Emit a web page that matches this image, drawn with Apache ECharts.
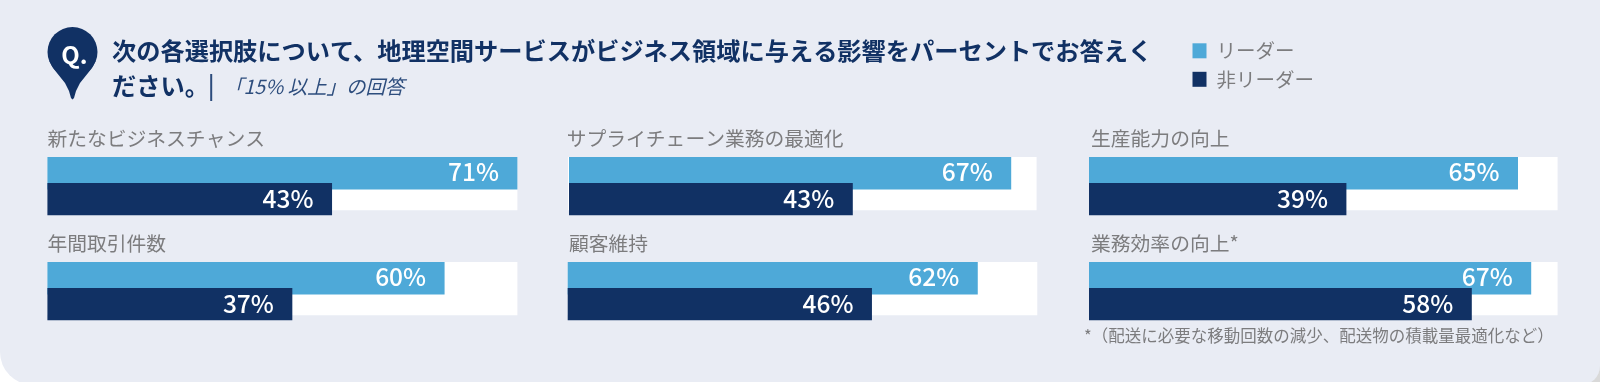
<!DOCTYPE html>
<html><head><meta charset="utf-8">
<style>html,body{margin:0;padding:0;background:#fff}#c{width:1600px;height:382px}</style>
<script src="https://cdn.jsdelivr.net/npm/echarts@6/dist/echarts.min.js"></script>
</head><body><div id="c"></div>
<script>
const categories = ['新たなビジネスチャンス','サプライチェーン業務の最適化','生産能力の向上','年間取引件数','顧客維持','業務効率の向上*'];
const leaderValues = [71,67,65,60,62,67];
const nonLeaderValues = [43,43,39,37,46,58];
const seriesNames = ['リーダー','非リーダー'];
const titleLine1 = '次の各選択肢について、地理空間サービスがビジネス領域に与える影響をパーセントでお答えく';
const titleLine2 = 'ださい。';
const subTitle = '「15% 以上」の回答';
const footnote = '*（配送に必要な移動回数の減少、配送物の積載量最適化など）';
const axisMax = 71;

const FONT = '"Noto Sans CJK JP","Noto Sans",sans-serif';
const LIGHT = '#4ea9d8', DARK = '#113164', GREY = '#7c7c7e', BG = '#e9ecf4';

const layout = [
  {bar:47.4, track:47.4, label:47.4, top:157, ly:138, w:470},
  {bar:569,  track:568,  label:566.7,top:157, ly:138, w:468.6},
  {bar:1089, track:1089, label:1091, top:157, ly:138, w:468.6},
  {bar:47.4, track:47.4, label:47.4, top:262, ly:243, w:470},
  {bar:567.7,track:567.7,label:569,  top:262, ly:243, w:469.6},
  {bar:1089, track:1089, label:1091, top:262, ly:243, w:468.6}
];

const grid=[], xAxis=[], yAxis=[], series=[], title=[];
function addGrid(left,top,w,h){
  grid.push({left,top,width:w,height:h,containLabel:false});
  xAxis.push({type:'value',gridIndex:grid.length-1,min:0,max:axisMax,show:false});
  yAxis.push({type:'category',gridIndex:grid.length-1,data:[''],inverse:true,show:false});
  return grid.length-1;
}
const lbl = {show:true,position:'insideRight',distance:18.5,color:'#fff',fontFamily:FONT,fontSize:24.5,fontWeight:500,formatter:p=>p.value+'%'};
categories.forEach((name,i)=>{
  const L = layout[i];
  const t = addGrid(L.track,L.top,L.w,53.3);
  series.push({type:'bar',xAxisIndex:t,yAxisIndex:t,data:[axisMax],barWidth:'100%',silent:true,z:1,itemStyle:{color:'#fff'},animation:false});
  const g = addGrid(L.bar,L.top,L.w,58.4);
  series.push({name:seriesNames[0],type:'bar',xAxisIndex:g,yAxisIndex:g,data:[leaderValues[i]],barWidth:32.4,barGap:'-20%',z:2,itemStyle:{color:LIGHT},label:Object.assign({},lbl,{offset:[0,-1.5]}),animation:false});
  series.push({name:seriesNames[1],type:'bar',xAxisIndex:g,yAxisIndex:g,data:[nonLeaderValues[i]],barWidth:32.4,barGap:'-20%',z:3,itemStyle:{color:DARK},label:lbl,animation:false});
  title.push({text:name,left:L.label,top:L.ly-12,padding:0,textStyle:{fontFamily:FONT,fontSize:19.8,fontWeight:400,color:GREY,lineHeight:24}});
});

const txt=(x,y,t,o,z)=>({type:'text',x,y,z:z||5,silent:true,style:Object.assign({text:t,fontFamily:FONT,verticalAlign:'middle'},o)});
const graphic=[
  {type:'rect',z:-30,silent:true,shape:{x:1560,y:350,width:40,height:32},style:{fill:'#d9d9d9'}},
  {type:'rect',z:-20,silent:true,shape:{x:0,y:-10,width:1600,height:395,r:[0,0,19,33]},style:{fill:BG}},
  {type:'circle',z:5,silent:true,shape:{cx:72.5,cy:52,r:25},style:{fill:DARK}},
  {type:'polygon',z:5,silent:true,shape:{points:[[49.5,61],[53,68],[59,75.5],[65,83],[69,91],[71,98],[72.5,99.5],[74,98],[76,91],[80,83],[86,75.5],[92,68],[95.5,61]]},style:{fill:DARK}},
  txt(74.5,55,'Q.',{fill:'#fff',fontSize:24,fontWeight:600,align:'center'},6),
  txt(112,51,titleLine1,{fill:DARK,fontSize:24.22,fontWeight:700}),
  txt(112,86,titleLine2,{fill:DARK,fontSize:24.22,fontWeight:700}),
  {type:'rect',z:5,silent:true,shape:{x:210.2,y:74,width:2,height:27},style:{fill:'#2c4c7c'}},
  txt(224,87,subTitle,{fill:'#2d4d7d',fontSize:19.5,fontWeight:400,fontStyle:'italic'}),
  txt(1084,335.5,footnote,{fill:GREY,fontSize:16.5,fontWeight:400})
];

const chart = echarts.init(document.getElementById('c'),null,{renderer:'canvas'});
chart.setOption({
  animation:false,backgroundColor:'transparent',
  title,grid,xAxis,yAxis,series,graphic,
  tooltip:{show:false},
  legend:{show:true,left:1192.5,top:38.8,padding:0,orient:'vertical',itemWidth:14,itemHeight:15,itemGap:4.5,icon:'rect',selectedMode:false,
    data:seriesNames,
    textStyle:{fontFamily:FONT,fontSize:19.5,color:GREY,lineHeight:24,padding:[0,0,0,5]}}
});
</script></body></html>
